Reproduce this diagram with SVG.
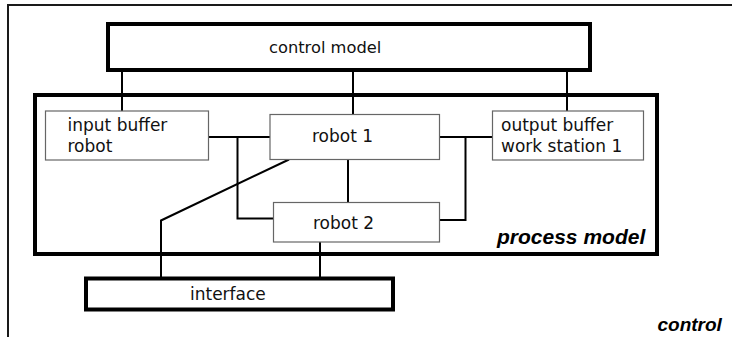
<svg xmlns="http://www.w3.org/2000/svg" width="732" height="337" viewBox="0 0 732 337">
  <style>
    .frame { fill: none; stroke: #1a1a1a; stroke-width: 2; }
    .thick { fill: #fff; stroke: #000; stroke-width: 4; }
    .open { fill: none; }
    .thin { fill: #fff; stroke: #666; stroke-width: 1.2; }
    .wire { fill: none; stroke: #000; stroke-width: 2; }
    .lbl { font-family: "DejaVu Sans", "Verdana", sans-serif; font-size: 17px; fill: #111; }
    .tag { font-family: "Liberation Sans", Arial, sans-serif; font-weight: bold; font-style: italic; fill: #000; }
  </style>
  <rect width="732" height="337" fill="#fff"/>

  <!-- outer control frame (open to the right and bottom) -->
  <path class="frame" d="M8,337 V5 H732"/>

  <g id="process-model">
    <rect class="thick open" x="35" y="95" width="622" height="159"/>
    <text class="tag" x="497" y="244" font-size="21">process model</text>
  </g>

  <g id="connectors">
    <!-- control model down to the three top nodes -->
    <path class="wire" d="M122,72 V111"/>
    <path class="wire" d="M353,72 V114.5"/>
    <path class="wire" d="M567,72 V111"/>
    <!-- left bus -->
    <path class="wire" d="M208.5,137 H270"/>
    <path class="wire" d="M237.5,137 V218.5 H273.5"/>
    <!-- right bus -->
    <path class="wire" d="M439.5,137 H492.5"/>
    <path class="wire" d="M465.5,137 V220 H439.5"/>
    <!-- robot 1 to robot 2 -->
    <path class="wire" d="M348,159.5 V202.5"/>
    <!-- robot 1 to interface -->
    <path class="wire" d="M289,159.5 L161,220.5 V277"/>
    <!-- robot 2 to interface -->
    <path class="wire" d="M320,241.5 V277"/>
  </g>

  <g id="control-model">
    <rect class="thick" x="108" y="24" width="482" height="46"/>
    <text class="lbl" x="269" y="53.3" font-size="16.3px" style="font-size:16.3px">control model</text>
  </g>

  <g id="input-buffer-robot">
    <rect class="thin" x="45.5" y="111" width="163" height="49"/>
    <text class="lbl" x="67.5" y="131">input buffer</text>
    <text class="lbl" x="67.5" y="152">robot</text>
  </g>

  <g id="robot-1">
    <rect class="thin" x="270" y="114.5" width="169.5" height="45"/>
    <text class="lbl" x="312" y="142">robot 1</text>
  </g>

  <g id="output-buffer-work-station-1">
    <rect class="thin" x="492.5" y="111" width="151" height="49"/>
    <text class="lbl" x="501" y="131">output buffer</text>
    <text class="lbl" x="501" y="152">work station 1</text>
  </g>

  <g id="robot-2">
    <rect class="thin" x="273.5" y="202.5" width="166" height="39.5"/>
    <text class="lbl" x="313" y="228.5">robot 2</text>
  </g>

  <g id="interface">
    <rect class="thick" x="86" y="278.5" width="307" height="31"/>
    <text class="lbl" x="190" y="299.5">interface</text>
  </g>

  <text id="control-label" class="tag" x="657.5" y="330.5" font-size="19">control</text>
</svg>
